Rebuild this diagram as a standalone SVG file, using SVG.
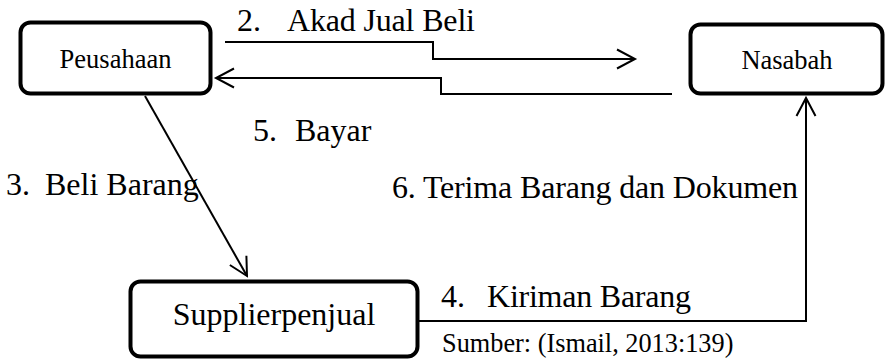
<svg xmlns="http://www.w3.org/2000/svg" width="886" height="362" viewBox="0 0 886 362">
<style>
.box{fill:#fff;stroke:#000;stroke-width:4}
.bt{font-family:"Liberation Serif","Times New Roman",serif;font-size:26.5px;fill:#000;text-anchor:middle}
.bt2{font-family:"Liberation Serif","Times New Roman",serif;font-size:32px;fill:#000;text-anchor:middle}
.lbl{font-family:"Liberation Serif","Times New Roman",serif;font-size:32px;fill:#000}
.src{font-family:"Liberation Serif","Times New Roman",serif;font-size:26.3px;fill:#000}
.con{fill:none;stroke:#000;stroke-width:2;marker-end:url(#arr)}
</style>
<defs>
<marker id="arr" markerUnits="userSpaceOnUse" markerWidth="24" markerHeight="24" refX="0" refY="0" orient="auto" overflow="visible">
<path d="M-18,-9.5 L0,0 L-18,9.5" fill="none" stroke="#000" stroke-width="2"/>
</marker>
</defs>
<rect width="886" height="362" fill="#fff"/>
<g id="connectors">
<path class="con" d="M225,42 H433 V59 H635"/>
<path class="con" d="M672,94 H441 V78 H216"/>
<path class="con" d="M145,96 L247,276"/>
<path class="con" d="M419,321 H806 V98"/>
</g>
<g id="peusahaan">
<rect class="box" x="20.5" y="22.5" width="190" height="71" rx="10"/>
<text class="bt" x="115.5" y="68">Peusahaan</text>
</g>
<g id="nasabah">
<rect class="box" x="690.5" y="24.5" width="192" height="69" rx="10"/>
<text class="bt" x="787" y="69">Nasabah</text>
</g>
<g id="supplierpenjual">
<rect class="box" x="130.5" y="281.5" width="287" height="75" rx="10"/>
<text class="bt2" x="274" y="325">Supplierpenjual</text>
</g>
<g id="labels">
<text class="lbl" x="237" y="31">2.</text>
<text class="lbl" x="287" y="31" textLength="188">Akad Jual Beli</text>
<text class="lbl" x="253" y="141">5.</text>
<text class="lbl" x="295" y="141">Bayar</text>
<text class="lbl" x="6" y="195">3.</text>
<text class="lbl" x="45" y="195">Beli Barang</text>
<text class="lbl" x="392" y="198" textLength="406">6. Terima Barang dan Dokumen</text>
<text class="lbl" x="441" y="307">4.</text>
<text class="lbl" x="487" y="307" textLength="204">Kiriman Barang</text>
<text class="src" x="442" y="352">Sumber: (Ismail, 2013:139)</text>
</g>
</svg>
